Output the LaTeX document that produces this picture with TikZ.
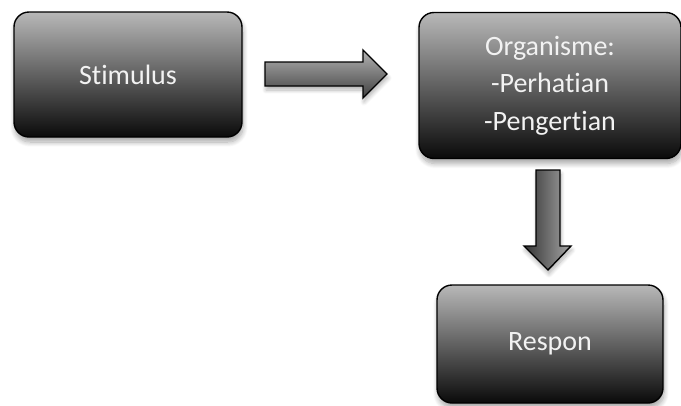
\documentclass[tikz,border=0pt]{standalone}
\usepackage{fontspec}
\setmainfont{Carlito}[Ligatures={NoCommon}]
\usetikzlibrary{shadows.blur}
\definecolor{boxtop}{HTML}{B8B8B8}
\definecolor{boxbot}{HTML}{0A0A0A}
\definecolor{txt}{HTML}{F2F2F2}
\tikzset{
  gbox/.style={draw=black, line width=1.4pt, rounded corners=15pt,
    top color=boxtop, bottom color=boxbot, text=txt, align=center,
    inner sep=0pt, font=\fontsize{28}{37.5}\selectfont,
    blur shadow={shadow blur steps=10, shadow xshift=1pt, shadow yshift=-5pt, shadow opacity=35, shadow blur radius=5pt}},
  barrow/.style={draw=black, line width=1.4pt, line join=miter,
    blur shadow={shadow blur steps=8, shadow xshift=1pt, shadow yshift=-4pt, shadow opacity=30, shadow blur radius=4pt}}
}
\begin{document}
\begin{tikzpicture}[x=1pt,y=-1pt]
\useasboundingbox (0,0) rectangle (681,405);
\node[gbox, minimum width=228pt, minimum height=125pt] (stim) at (128,74.5) {Stimulus};
\node[gbox, minimum width=262pt, minimum height=146pt] (org) at (550,85.5) {Organisme:\\-Perhatian\\-Pengertian};
\node[gbox, minimum width=226pt, minimum height=118pt] (resp) at (550,344) {Respon};
% right block arrow
\path[barrow, top color=white!70!black, bottom color=black!75]
  (265,62) -- (363,62) -- (363,50) -- (387,74) -- (363,98) -- (363,86) -- (265,86) -- cycle;
% down block arrow
\path[barrow, left color=black!80, right color=white!65!black]
  (536,170) -- (560,170) -- (560,246) -- (571,246) -- (548,270) -- (524,246) -- (536,246) -- cycle;
\end{tikzpicture}
\end{document}
